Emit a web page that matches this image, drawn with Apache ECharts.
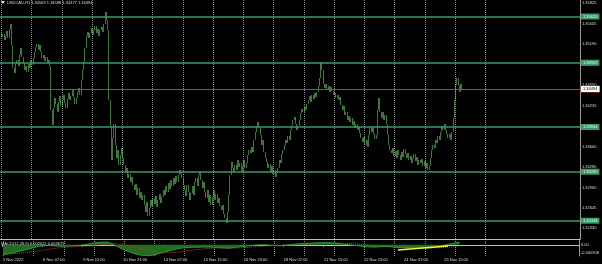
<!DOCTYPE html>
<html><head><meta charset="utf-8">
<script src="https://cdn.jsdelivr.net/npm/echarts@6/dist/echarts.min.js"></script>
<style>html,body{margin:0;padding:0;background:#000}#c{width:602px;height:264px}</style>
</head><body><div id="c"></div>
<script>
const chartTitle = 'USDCAD,H1 1.34569 1.34588 1.34477 1.34494';
const macdTitle = 'MACD(12,26,9) 0.002622 0.003679';
const totalBars = 460;
const closes = [
1.35364,1.35302,1.35348,1.35255,1.35317,1.35395,1.35286,1.35426,1.35503,1.35177,
1.34820,1.34743,1.34882,1.34944,1.34851,1.35022,1.35131,1.34991,1.34898,1.34789,
1.34851,1.34758,1.34882,1.34820,1.34944,1.34867,1.34976,1.35069,1.35146,1.35193,
1.35100,1.35177,1.35069,1.34976,1.35022,1.34929,1.34991,1.34898,1.34944,1.34851,
1.34168,1.33934,1.34199,1.34354,1.34261,1.34137,1.34292,1.34386,1.34230,1.34323,
1.34401,1.34276,1.34199,1.34339,1.34432,1.34323,1.34386,1.34479,1.34370,1.34261,
1.34354,1.34448,1.34510,1.34401,1.34634,1.34789,1.34913,1.35131,1.35317,1.35379,
1.35286,1.35364,1.35441,1.35333,1.35395,1.35472,1.35364,1.35426,1.35317,1.35410,
1.35457,1.35379,1.35503,1.35690,1.35565,1.35410,1.34323,1.33919,1.33391,1.33733,
1.33950,1.33624,1.33422,1.33546,1.33313,1.33468,1.33577,1.33422,1.33313,1.33205,
1.33267,1.33112,1.33174,1.33049,1.33127,1.33002,1.32925,1.33018,1.32847,1.32956,
1.32801,1.32894,1.32770,1.32847,1.32692,1.32583,1.32739,1.32521,1.32646,1.32770,
1.32677,1.32801,1.32708,1.32832,1.32661,1.32770,1.32863,1.32723,1.32816,1.32925,
1.32847,1.32987,1.32894,1.33033,1.32940,1.33080,1.32987,1.33112,1.33018,1.33143,
1.33049,1.33158,1.33236,1.33174,1.33112,1.33002,1.32925,1.32832,1.33002,1.32894,
1.32770,1.32878,1.32987,1.32847,1.33049,1.33112,1.32987,1.33158,1.33205,1.33080,
1.32956,1.33049,1.32894,1.32801,1.32925,1.32739,1.32847,1.32692,1.32816,1.32925,
1.32770,1.32863,1.32723,1.32801,1.32677,1.32614,1.32692,1.32552,1.32490,1.32412,
1.32583,1.32847,1.33158,1.33360,1.33267,1.33205,1.33313,1.33236,1.33391,1.33282,
1.33344,1.33205,1.33298,1.33391,1.33267,1.33344,1.33468,1.33546,1.33499,1.33593,
1.33515,1.33702,1.33826,1.33919,1.33981,1.33888,1.33779,1.33624,1.33702,1.33515,
1.33422,1.33360,1.33267,1.33329,1.33205,1.33298,1.33174,1.33236,1.33127,1.33189,
1.33267,1.33391,1.33344,1.33484,1.33546,1.33624,1.33702,1.33655,1.33764,1.33702,
1.33857,1.33934,1.34012,1.34059,1.33950,1.33857,1.33919,1.34012,1.34121,1.34183,
1.34137,1.34214,1.34168,1.34261,1.34323,1.34386,1.34292,1.34401,1.34339,1.34432,
1.34370,1.34448,1.34541,1.34665,1.34913,1.34789,1.34572,1.34510,1.34572,1.34479,
1.34541,1.34448,1.34525,1.34463,1.34401,1.34432,1.34354,1.34401,1.34323,1.34370,
1.34245,1.34168,1.34230,1.34090,1.34137,1.34012,1.34074,1.33981,1.34044,1.33934,
1.33996,1.33888,1.33950,1.33857,1.33903,1.33810,1.33733,1.33671,1.33748,1.33624,
1.33702,1.33593,1.33779,1.33888,1.33826,1.33903,1.33795,1.33717,1.33779,1.34168,
1.34354,1.34137,1.34044,1.34137,1.34012,1.34090,1.33950,1.33779,1.33624,1.33546,
1.33499,1.33577,1.33453,1.33530,1.33422,1.33546,1.33468,1.33391,1.33515,1.33437,
1.33562,1.33484,1.33422,1.33499,1.33391,1.33453,1.33344,1.33422,1.33484,1.33375,
1.33437,1.33313,1.33391,1.33344,1.33406,1.33298,1.33375,1.33267,1.33344,1.33236,
1.33298,1.33422,1.33546,1.33624,1.33577,1.33702,1.33655,1.33764,1.33702,1.33826,
1.33919,1.33857,1.33950,1.33857,1.33795,1.33733,1.33795,1.33702,1.33826,1.34044,
1.34323,1.34556,1.34665,1.34541,1.34448,1.34572,1.34494
];
const tickBars = [0,32,64,96,128,160,192,224,256,288,320,352];
const tickLabels = ['5 Nov 2022','8 Nov 07:00','9 Nov 15:00','10 Nov 23:00','14 Nov 07:00','15 Nov 15:00','16 Nov 23:00','18 Nov 07:00','21 Nov 15:00','22 Nov 23:00','24 Nov 07:00','25 Nov 15:00'];
const gridBars = [1,25,49,73,97,121,145,169,193,217,241,265,289,313,337,361,385];
const priceTicks = [1.35825,1.35505,1.35190,1.34870,1.34550,1.34235,1.33915,1.33600,1.33280,1.32965,1.32645,1.32330];
const levels = [1.35620,1.34902,1.33904,1.33209,1.32448];
const lastPrice = 1.34494;
const macdStep = 4;
const macdMain = [
-0.0053,-0.0048,-0.0042,-0.0036,-0.0030,-0.0023,-0.0016,-0.0009,-0.0005,-0.0004,
-0.0005,-0.0007,-0.0008,-0.0007,-0.0006,-0.0004,-0.0001,0.0004,0.0009,0.0012,
0.0014,0.0013,0.0002,-0.0012,-0.0025,-0.0036,-0.0045,-0.0052,-0.0057,-0.0058,
-0.0054,-0.0047,-0.0040,-0.0033,-0.0026,-0.0020,-0.0016,-0.0014,-0.0013,-0.0013,
-0.0012,-0.0012,-0.0013,-0.0015,-0.0017,-0.0018,-0.0015,-0.0011,-0.0008,-0.0006,
-0.0003,-0.0001,0.0000,-0.0002,-0.0004,-0.0005,-0.0003,0.0000,0.0003,0.0005,
0.0007,0.0008,0.0009,0.0010,0.0011,0.0011,0.0009,0.0006,0.0003,0.0000,
-0.0003,-0.0006,-0.0009,-0.0011,-0.0012,-0.0011,-0.0009,-0.0010,-0.0013,-0.0015,
-0.0016,-0.0017,-0.0017,-0.0017,-0.0017,-0.0017,-0.0014,-0.0009,-0.0003,0.0003,
0.0008,0.0014
];
const macdSignal = [
-0.0045,-0.0046,-0.0046,-0.0045,-0.0043,-0.0040,-0.0037,-0.0033,-0.0028,-0.0024,
-0.0020,-0.0017,-0.0014,-0.0012,-0.0011,-0.0009,-0.0008,-0.0006,-0.0004,-0.0001,
0.0002,0.0005,0.0006,0.0004,0.0000,-0.0005,-0.0011,-0.0018,-0.0025,-0.0031,
-0.0036,-0.0040,-0.0042,-0.0042,-0.0041,-0.0038,-0.0035,-0.0031,-0.0028,-0.0025,
-0.0022,-0.0020,-0.0018,-0.0017,-0.0017,-0.0017,-0.0017,-0.0016,-0.0015,-0.0013,
-0.0011,-0.0009,-0.0007,-0.0006,-0.0005,-0.0005,-0.0005,-0.0004,-0.0003,-0.0001,
0.0001,0.0003,0.0005,0.0006,0.0007,0.0008,0.0009,0.0009,0.0008,0.0007,
0.0005,0.0003,0.0001,-0.0001,-0.0003,-0.0005,-0.0006,-0.0007,-0.0008,-0.0009,
-0.0010,-0.0012,-0.0013,-0.0014,-0.0015,-0.0015,-0.0016,-0.0015,-0.0014,-0.0012,
-0.0010,-0.0008
];
const macdTicks = [0.003026, 0, -0.005908];
const macdTrend = [[315, -0.0027], [355, -0.0007]];

const cats = Array.from({length: totalBars}, (_, i) => String(i));
const candles = closes.map((c, i) => { const o = i ? closes[i - 1] : c; return [o, c, Math.min(o, c), Math.max(o, c)]; });
const gridSet = new Set(gridBars);
const tickMap = new Map(tickBars.map((b, i) => [b, tickLabels[i]]));
const mainData = macdMain.map((v, j) => [String(j * macdStep), v]);
const sigData = macdSignal.map((v, j) => [String(j * macdStep), v]);
const FONT = 'Liberation Sans';
const GREEN = '#3a9a68';
const CANDLE = '#66c466';
const splitLine = {show: true, interval: (i) => gridSet.has(i), lineStyle: {color: '#8a8a8a', type: 'dotted', width: 1}};
const levelLabel = (v) => ({show: true, position: 'end', distance: 1, formatter: () => v.toFixed(5), backgroundColor: GREEN, color: '#e6ffe6', fontSize: 4, padding: [1, 2, 1, 2], fontFamily: FONT});

const chart = echarts.init(document.getElementById('c'), null, {renderer: 'canvas'});
chart.setOption({
  backgroundColor: '#000',
  animation: false,
  textStyle: {fontFamily: FONT},
  title: [
    {text: chartTitle, left: 7, top: 1, padding: 0, textStyle: {color: '#ddd', fontSize: 4, fontWeight: 'normal', fontFamily: FONT}},
    {text: macdTitle, left: 1, top: 242, padding: 0, textStyle: {color: '#ddd', fontSize: 4, fontWeight: 'normal', fontFamily: FONT}}
  ],
  graphic: [{type: 'polygon', shape: {points: [[1, 1], [5, 1], [3, 4]]}, style: {fill: '#ddd'}}],
  grid: [
    {left: 0, right: 22, top: 0, height: 239},
    {left: 0, right: 22, top: 239, height: 17}
  ],
  xAxis: [
    {type: 'category', gridIndex: 0, data: cats, boundaryGap: true,
     axisLine: {show: true, lineStyle: {color: '#bbb', width: 1}}, axisTick: {show: false}, axisLabel: {show: false}, splitLine},
    {type: 'category', gridIndex: 1, data: cats, boundaryGap: true,
     axisLine: {show: true, lineStyle: {color: '#bbb', width: 1}},
     axisTick: {show: true, interval: (i) => tickMap.has(i), length: 2, lineStyle: {color: '#bbb'}},
     axisLabel: {show: true, interval: (i) => tickMap.has(i), formatter: (v) => tickMap.get(Number(v)) || '', align: 'left', color: '#ddd', fontSize: 4, margin: 2, fontFamily: FONT},
     splitLine}
  ],
  yAxis: [
    {type: 'value', gridIndex: 0, position: 'right', min: 1.32164, max: 1.35876,
     axisLine: {show: true, lineStyle: {color: '#999'}}, axisTick: {show: false}, splitLine: {show: false},
     axisLabel: {customValues: priceTicks, formatter: (v) => v.toFixed(5), color: '#ddd', fontSize: 4, margin: 2, fontFamily: FONT}},
    {type: 'value', gridIndex: 1, position: 'right', min: -0.005908, max: 0.003026,
     axisLine: {show: true, lineStyle: {color: '#999'}}, axisTick: {show: false}, splitLine: {show: false},
     axisLabel: {customValues: macdTicks, color: '#ddd', fontSize: 4, margin: 2, fontFamily: FONT,
       formatter: (v) => v === 0 ? '{z|0.00}' : (v > 0 ? '{t|' + v.toFixed(6) + '}' : '{b|' + v.toFixed(6) + '}'),
       rich: {t: {padding: [6, 0, 0, 0], fontSize: 4, color: '#ddd'}, b: {padding: [0, 0, 6, 0], fontSize: 4, color: '#ddd'}, z: {fontSize: 4, color: '#ddd'}}}}
  ],
  series: [
    {type: 'candlestick', xAxisIndex: 0, yAxisIndex: 0, data: candles, barWidth: 1,
     itemStyle: {color: CANDLE, color0: CANDLE, borderColor: CANDLE, borderColor0: CANDLE, borderWidth: 0.6}},
    {type: 'line', name: 'levels', xAxisIndex: 0, yAxisIndex: 0, data: [], showSymbol: false,
     markLine: {silent: true, symbol: 'none', animation: false, precision: 6,
       data: levels.map(v => ({yAxis: v, lineStyle: {color: GREEN, width: 1.5, type: 'solid'}, label: levelLabel(v)}))
         .concat([{yAxis: lastPrice, lineStyle: {color: '#9b4848', width: 1, type: 'solid'},
           label: {show: true, position: 'end', distance: 1, formatter: () => lastPrice.toFixed(5), backgroundColor: '#fff', borderColor: '#c03030', borderWidth: 0.6, color: '#000', fontSize: 4, padding: [1, 2, 1, 2], fontFamily: FONT}}])}},
    {type: 'line', xAxisIndex: 1, yAxisIndex: 1, data: mainData, showSymbol: false, symbol: 'none',
     lineStyle: {color: '#2f9a2f', width: 1}, areaStyle: {color: '#1e6e1e', opacity: 1},
     markLine: {silent: true, symbol: 'none', animation: false, precision: 6, label: {show: false},
       data: [[{coord: [String(macdTrend[0][0]), macdTrend[0][1]]}, {coord: [String(macdTrend[1][0]), macdTrend[1][1]]}]],
       lineStyle: {color: '#ffee33', width: 1.5, type: 'solid'}}},
    {type: 'line', xAxisIndex: 1, yAxisIndex: 1, data: sigData, showSymbol: false, symbol: 'none',
     lineStyle: {color: '#c03a3a', width: 1, type: 'dotted'}}
  ]
});
</script></body></html>
